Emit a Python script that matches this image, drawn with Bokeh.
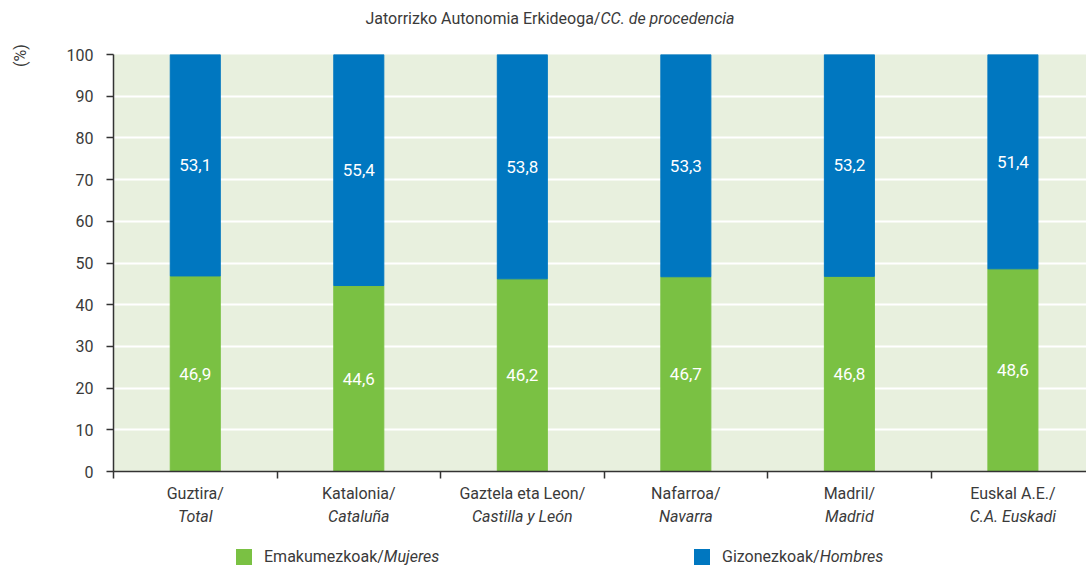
from bokeh.plotting import figure
from bokeh.models import Range1d, FixedTicker, ColumnDataSource, LinearAxis, Div
from bokeh.layouts import column, row
from bokeh.embed import file_html
from bokeh.resources import INLINE

# ---- data ----
cat_eu = ["Guztira/", "Katalonia/", "Gaztela eta Leon/", "Nafarroa/", "Madril/", "Euskal A.E./"]
cat_es = ["Total", "Cataluña", "Castilla y León", "Navarra", "Madrid", "C.A. Euskadi"]
mujeres = [46.9, 44.6, 46.2, 46.7, 46.8, 48.6]
hombres = [53.1, 55.4, 53.8, 53.3, 53.2, 51.4]
y_ticks = [0, 10, 20, 30, 40, 50, 60, 70, 80, 90, 100]
title_eu = "Jatorrizko Autonomia Erkideoga/"
title_es = "CC. de procedencia"
legend_eu = ["Emakumezkoak/", "Gizonezkoak/"]
legend_es = ["Mujeres", "Hombres"]
y_unit = "(%)"

GREEN = "#7ac143"
BLUE = "#0077c0"
BG = "#e8f0de"
TXT = "#3a3a3a"
AX = "#333333"
FONT = "Roboto"

n = len(cat_eu)
centers = [i + 0.5 for i in range(n)]
bounds = list(range(n + 1))

# ---- title ----
title_div = Div(
    text=(f'<div style="font-family:{FONT};font-size:16px;color:{TXT};text-align:center;'
          f'width:1086px;padding-left:14px;box-sizing:border-box;line-height:19px;padding-top:9px">'
          f'{title_eu}<i>{title_es}</i></div>'),
    width=1086, height=40, margin=0)

# ---- unit label ----
pct_div = Div(
    text=(f'<div style="font-family:{FONT};font-size:16px;color:{TXT};width:26px;text-align:center;'
          f'line-height:19px;margin-left:7px;margin-top:6px;transform:rotate(-90deg)">{y_unit}</div>'),
    width=40, height=490, margin=0)

# ---- figure ----
p = figure(width=1046, height=490, output_backend="svg", toolbar_location=None,
           x_range=Range1d(0, 5.95), y_range=Range1d(0, 100),
           min_border_left=73, min_border_top=14, min_border_bottom=59, min_border_right=0,
           x_axis_location=None)
p.frame_width = 973
p.frame_height = 417
p.background_fill_color = BG
p.border_fill_color = "white"
p.outline_line_color = None

src = ColumnDataSource(dict(
    x=centers, m=mujeres,
    top2=[a + b for a, b in zip(mujeres, hombres)],
    mm=[a / 2 for a in mujeres],
    hm=[a + b / 2 for a, b in zip(mujeres, hombres)],
    ml=[f"{v:.1f}".replace(".", ",") for v in mujeres],
    hl=[f"{v:.1f}".replace(".", ",") for v in hombres]))
p.vbar(x="x", bottom=0, top="m", width=0.306, color=GREEN, source=src)
p.vbar(x="x", bottom="m", top="top2", width=0.306, color=BLUE, source=src)
for ycol, tcol in (("mm", "ml"), ("hm", "hl")):
    p.text(x="x", y=ycol, text=tcol, source=src, text_color="white", text_align="center",
           text_baseline="middle", text_font_size="17px", text_font={"value": FONT})

# grid
p.xgrid.visible = False
p.ygrid.ticker = FixedTicker(ticks=y_ticks)
p.ygrid.grid_line_color = "white"
p.ygrid.grid_line_width = 2

# y axis
p.yaxis.ticker = FixedTicker(ticks=y_ticks)
p.yaxis.axis_line_color = AX
p.yaxis.axis_line_width = 1.5
p.yaxis.major_tick_line_color = AX
p.yaxis.major_tick_line_width = 1.5
p.yaxis.major_tick_out = 7
p.yaxis.major_tick_in = 0
p.yaxis.minor_tick_line_color = None
p.yaxis.major_label_text_font = FONT
p.yaxis.major_label_text_font_size = "16px"
p.yaxis.major_label_text_color = TXT
p.yaxis.major_label_standoff = 13

# x axis 1: line, boundary ticks (minor), first label line
ax1 = LinearAxis(ticker=FixedTicker(ticks=centers, minor_ticks=bounds),
                 major_label_overrides={c: t for c, t in zip(centers, cat_eu)})
ax1.axis_line_color = AX
ax1.axis_line_width = 1.5
ax1.major_tick_line_color = None
ax1.major_tick_out = 0
ax1.major_tick_in = 0
ax1.minor_tick_line_color = AX
ax1.minor_tick_line_width = 1.5
ax1.minor_tick_out = 7
ax1.minor_tick_in = 0
ax1.major_label_standoff = 5
ax1.major_label_text_font = FONT
ax1.major_label_text_font_size = "16px"
ax1.major_label_text_color = TXT
p.add_layout(ax1, "below")

# x axis 2: italic second label line
ax2 = LinearAxis(ticker=FixedTicker(ticks=centers),
                 major_label_overrides={c: t for c, t in zip(centers, cat_es)})
ax2.axis_line_color = None
ax2.major_tick_line_color = None
ax2.minor_tick_line_color = None
ax2.major_tick_out = 0
ax2.major_tick_in = 0
ax2.major_label_standoff = 1
ax2.major_label_text_font = FONT
ax2.major_label_text_font_size = "16px"
ax2.major_label_text_font_style = "italic"
ax2.major_label_text_color = TXT
p.add_layout(ax2, "below")

# ---- legend ----
def item(color, eu, es, left, width):
    return (f'<div style="display:flex;align-items:center;margin-left:{left}px;width:{width}px">'
            f'<span style="display:inline-block;width:16px;height:16px;background:{color}"></span>'
            f'<span style="margin-left:12px">{eu}<i>{es}</i></span></div>')

legend_div = Div(
    text=(f'<div style="display:flex;font-family:{FONT};font-size:16px;color:{TXT};'
          f'line-height:19px;padding-top:17px">'
          + item(GREEN, legend_eu[0], legend_es[0], 236, 458)
          + item(BLUE, legend_eu[1], legend_es[1], 0, 300)
          + '</div>'),
    width=1086, height=37, margin=0)

layout = column(title_div, row(pct_div, p, spacing=0, margin=0), legend_div, spacing=0, margin=0)

open("out.html", "w").write(file_html(layout, INLINE))
